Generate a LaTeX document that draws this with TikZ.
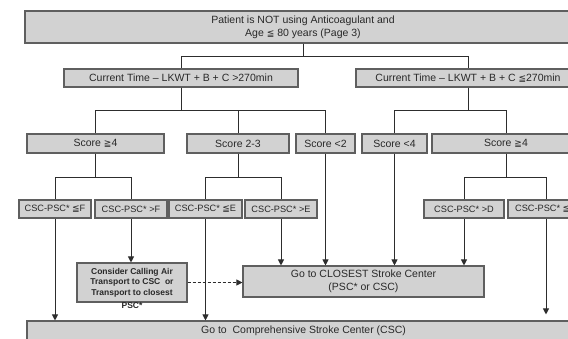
\documentclass[tikz,border=0pt]{standalone}
\usepackage{fontspec}
\setmainfont{Liberation Sans}
\newfontfamily\symfont{DejaVu Sans}
\usetikzlibrary{arrows.meta}

\definecolor{boxfill}{RGB}{210,210,210}
\definecolor{boxline}{RGB}{95,95,95}
\definecolor{linkline}{RGB}{45,45,45}
\definecolor{txt}{RGB}{40,40,40}

\newcommand{\leqq}{{\symfont\small ≦}}
\newcommand{\geqq}{{\symfont\small ≧}}

\tikzset{
  box/.style={draw=boxline, fill=boxfill, line width=1.1pt, text=txt, inner sep=0pt,
    align=center, font=\fontsize{10.5}{13}\selectfont},
  smallbox/.style={box, font=\fontsize{9.2}{11}\selectfont},
  link/.style={draw=linkline, line width=1pt},
  arr/.style={link, -{Triangle[width=6pt,length=6pt]}},
  dasharr/.style={arr, dash pattern=on 3pt off 2pt}
}

\begin{document}
\begin{tikzpicture}[x=1pt,y=-1pt]
\useasboundingbox (0,0) rectangle (568,338);

\node[box, minimum width=556, minimum height=32] (patient) at (303,27)
  {Patient is NOT using Anticoagulant and\\Age \leqq{} 80 years (Page 3)};

\node[box, minimum width=234, minimum height=18] (timeL) at (181,78)
  {Current Time -- LKWT + B + C >270min};
\node[box, minimum width=224, minimum height=18] (timeR) at (468,78)
  {Current Time -- LKWT + B + C \leqq{}270min};

\node[box, minimum width=137, minimum height=19] (scoreA) at (95.5,143.5) {Score \geqq{}4};
\node[box, minimum width=102, minimum height=19] (scoreB) at (238,143.5) {Score 2-3};
\node[box, minimum width=59, minimum height=19] (scoreC) at (325.5,143.5) {Score <2};
\node[box, minimum width=65, minimum height=19] (scoreD) at (394.5,143.5) {Score <4};
\node[box, minimum width=148, minimum height=19] (scoreE) at (506,143.5) {Score \geqq{}4};

\node[smallbox, minimum width=72, minimum height=18] (cscA) at (55,209) {CSC-PSC* \leqq{}F};
\node[smallbox, minimum width=72, minimum height=18] (cscB) at (131,209) {CSC-PSC* >F};
\node[smallbox, minimum width=73, minimum height=18] (cscC) at (205.5,209) {CSC-PSC* \leqq{}E};
\node[smallbox, minimum width=72, minimum height=18] (cscD) at (281,209) {CSC-PSC* >E};
\node[smallbox, minimum width=80, minimum height=18] (cscE) at (464,209) {CSC-PSC* >D};
\node[smallbox, minimum width=76, minimum height=18] (cscF) at (546,209) {CSC-PSC* \leqq{}D};

\node[box, minimum width=110, minimum height=39, font=\bfseries\fontsize{8.5}{10.3}\selectfont,
  label={[text=txt, inner sep=0pt, font=\bfseries\fontsize{8.5}{10}\selectfont]below:PSC*}]
  (air) at (132,282.5)
  {Consider Calling Air\\Transport to CSC\ \ or\\Transport to closest};

\node[box, minimum width=241, minimum height=31] (closest) at (363.5,281.5)
  {Go to CLOSEST Stroke Center\\(PSC* or CSC)};

\node[box, minimum width=553, minimum height=20] (comp) at (303.5,331)
  {Go to\ \ Comprehensive Stroke Center (CSC)};

% tree
\draw[link] (patient.south) -- ++(0,13) -| (timeL.north);
\draw[link] (patient.south) -- ++(0,13) -| (timeR.north);

\draw[link] (timeL.south) -- ++(0,23) -| (scoreA.north);
\draw[link] (timeL.south) -- ++(0,23) -| (scoreB.north);
\draw[link] (timeL.south) -- ++(0,23) -| (scoreC.north);
\draw[link] (timeR.south) -- ++(0,23) -| (scoreD.north);
\draw[link] (timeR.south) -- ++(0,23) -| (scoreE.north);

\draw[link] (scoreA.south) -- ++(0,24) -| (cscA.north);
\draw[link] (scoreA.south) -- ++(0,24) -| (cscB.north);
\draw[link] (scoreB.south) -- ++(0,24) -| (cscC.north);
\draw[link] (scoreB.south) -- ++(0,24) -| (cscD.north);
\draw[link] (scoreE.south) -- ++(0,24) -| (cscE.north);
\draw[link] (scoreE.south) -- ++(0,24) -| (cscF.north);

% arrows
\draw[arr] (cscA.south) -- (cscA.south |- comp.north);
\draw[arr] (cscB.south) -- (cscB.south |- air.north);
\draw[arr] (cscC.south) -- (cscC.south |- comp.north);
\draw[arr] (cscD.south) -- (cscD.south |- closest.north);
\draw[arr] (scoreC.south) -- (scoreC.south |- closest.north);
\draw[arr] (scoreD.south) -- (scoreD.south |- closest.north);
\draw[arr] (cscE.south) -- (cscE.south |- closest.north);
\draw[arr, shorten >=6pt] (cscF.south) -- (cscF.south |- comp.north);
\draw[dasharr] (air.east) -- (air.east -| closest.west);
\end{tikzpicture}
\end{document}
